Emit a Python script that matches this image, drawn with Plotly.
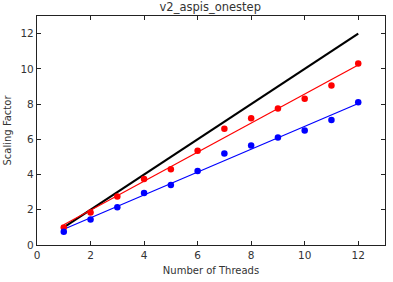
import numpy as np
import plotly.graph_objects as go

threads = [1, 2, 3, 4, 5, 6, 7, 8, 9, 10, 11, 12]
red_vals = [1.0, 1.85, 2.75, 3.75, 4.3, 5.35, 6.6, 7.2, 7.75, 8.3, 9.05, 10.3]
blue_vals = [0.75, 1.45, 2.15, 2.95, 3.4, 4.2, 5.2, 5.65, 6.1, 6.5, 7.1, 8.1]
ideal = [1, 2, 3, 4, 5, 6, 7, 8, 9, 10, 11, 12]
ticks = [0, 2, 4, 6, 8, 10, 12]

x = np.array(threads)
rfit = np.polyval(np.polyfit(x, red_vals, 1), x)
bfit = np.polyval(np.polyfit(x, blue_vals, 1), x)

fig = go.Figure()
fig.add_trace(go.Scatter(x=threads, y=ideal, mode="lines", line=dict(color="black", width=2.2), showlegend=False))
fig.add_trace(go.Scatter(x=threads, y=rfit, mode="lines", line=dict(color="red", width=1.2), showlegend=False))
fig.add_trace(go.Scatter(x=threads, y=bfit, mode="lines", line=dict(color="blue", width=1.2), showlegend=False))
fig.add_trace(go.Scatter(x=threads, y=red_vals, mode="markers", marker=dict(color="red", size=6.5), showlegend=False))
fig.add_trace(go.Scatter(x=threads, y=blue_vals, mode="markers", marker=dict(color="blue", size=6.5), showlegend=False))

axis_common = dict(
    showgrid=False, zeroline=False, showline=True, linecolor="#222", linewidth=1.2,
    mirror="ticks", ticks="inside", ticklen=4, tickcolor="#222",
    tickfont=dict(family="DejaVu Sans", size=10.5, color="#333"),
    tickvals=ticks,
)
fig.update_xaxes(range=[0, 13], title=dict(text="Number of Threads", font=dict(family="DejaVu Sans", size=10, color="#333"), standoff=7), **axis_common)
fig.update_yaxes(range=[0, 13], title=dict(text="Scaling Factor", font=dict(family="DejaVu Sans", size=10, color="#333"), standoff=6), **axis_common)

fig.update_layout(
    width=393, height=282,
    margin=dict(l=35, r=7, t=16, b=33),
    paper_bgcolor="white", plot_bgcolor="white",
    title=dict(text="v2_aspis_onestep", x=0.535, xanchor="center", y=0.99, yanchor="top",
               font=dict(family="DejaVu Sans", size=11.5, color="#333")),
)
fig.write_html("out.html")
